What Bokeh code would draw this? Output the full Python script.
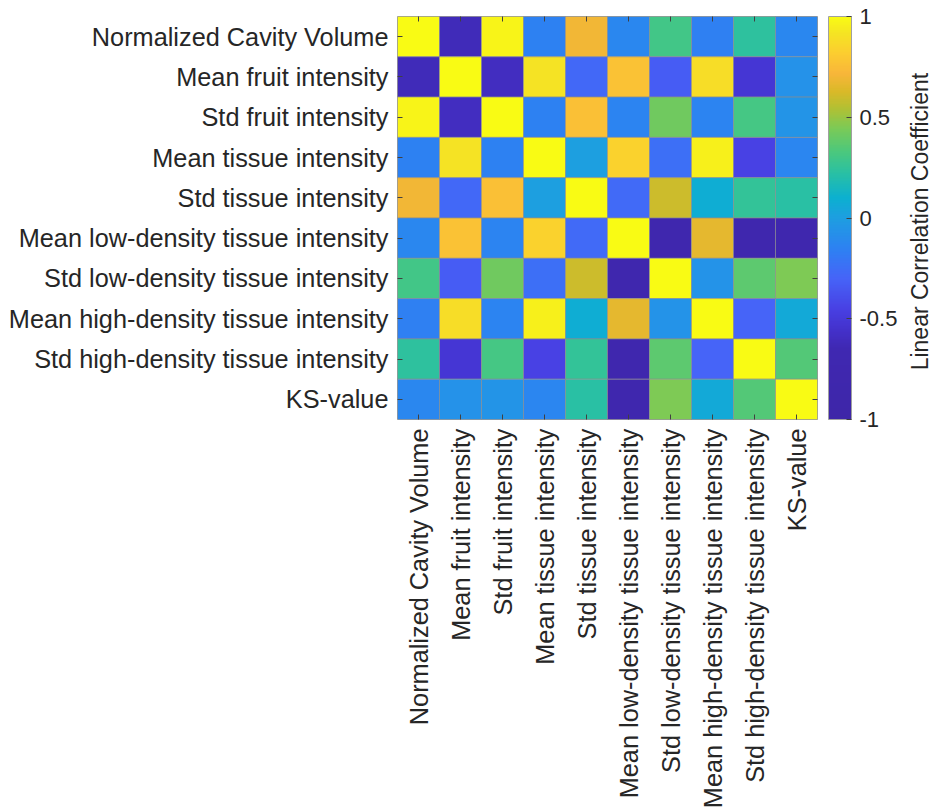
import math
import numpy as np
from bokeh.plotting import figure
from bokeh.layouts import row
from bokeh.core.properties import value
from bokeh.models import (ColumnDataSource, FactorRange, LinearColorMapper, ColorBar,
                          FixedTicker, CustomJSTickFormatter, CategoricalAxis, Range1d)
from bokeh.transform import transform
from bokeh.embed import file_html
from bokeh.resources import INLINE

# ---- data ----
labels = ["Normalized Cavity Volume", "Mean fruit intensity", "Std fruit intensity",
          "Mean tissue intensity", "Std tissue intensity",
          "Mean low-density tissue intensity", "Std low-density tissue intensity",
          "Mean high-density tissue intensity", "Std high-density tissue intensity",
          "KS-value"]

r_ncv = [1.00, -0.62, 0.97, -0.15, 0.70, -0.12, 0.30, -0.16, 0.24, -0.12]
r_mfi = [-0.62, 1.00, -0.60, 0.91, -0.28, 0.77, -0.33, 0.89, -0.52, -0.07]
r_sfi = [0.97, -0.60, 1.00, -0.15, 0.76, -0.14, 0.42, -0.14, 0.31, -0.05]
r_mti = [-0.15, 0.91, -0.15, 1.00, 0.00, 0.84, -0.25, 0.96, -0.45, -0.13]
r_sti = [0.70, -0.28, 0.76, 0.00, 1.00, -0.27, 0.60, 0.08, 0.25, 0.22]
r_mld = [-0.12, 0.77, -0.14, 0.84, -0.27, 1.00, -0.78, 0.66, -0.78, -0.80]
r_sld = [0.30, -0.33, 0.42, -0.25, 0.60, -0.78, 1.00, -0.06, 0.37, 0.45]
r_mhd = [-0.16, 0.89, -0.14, 0.96, 0.08, 0.66, -0.06, 1.00, -0.30, 0.06]
r_shd = [0.24, -0.52, 0.31, -0.45, 0.25, -0.78, 0.37, -0.30, 1.00, 0.35]
r_ks = [-0.12, -0.07, -0.05, -0.13, 0.22, -0.80, 0.45, 0.06, 0.35, 1.00]
rows = [r_ncv, r_mfi, r_sfi, r_mti, r_sti, r_mld, r_sld, r_mhd, r_shd, r_ks]

cbar_ticks = [-1, -0.5, 0, 0.5, 1]
cbar_title = "Linear Correlation Coefficient"

# ---- parula-like palette (style) ----
anchor_v = [-1.00, -0.65, -0.55, -0.45, -0.30, -0.15, 0.00, 0.10, 0.22, 0.33,
            0.45, 0.55, 0.63, 0.72, 0.82, 0.92, 1.00]
anchor_c = [(62, 38, 168), (63, 40, 178), (68, 50, 205), (72, 65, 228), (70, 100, 248),
            (45, 130, 242), (30, 158, 225), (12, 176, 208), (40, 192, 165), (75, 200, 125),
            (125, 202, 85), (180, 192, 50), (218, 185, 40), (248, 182, 58), (252, 205, 48),
            (245, 228, 35), (249, 251, 20)]
vv = np.linspace(-1, 1, 256)
ac = np.array(anchor_c, dtype=float)
pal = []
for v in vv:
    r = np.interp(v, anchor_v, ac[:, 0]); g = np.interp(v, anchor_v, ac[:, 1]); b = np.interp(v, anchor_v, ac[:, 2])
    pal.append("#%02x%02x%02x" % (int(round(r)), int(round(g)), int(round(b))))

xs, ys, vals = [], [], []
for i, rname in enumerate(labels):
    for j, cname in enumerate(labels):
        xs.append(cname); ys.append(rname); vals.append(rows[i][j])
src = ColumnDataSource(dict(x=xs, y=ys, v=vals))

mapper = LinearColorMapper(palette=pal, low=-1, high=1)

FONT = "Liberation Sans"
TXT = "#262626"
W_MAIN = 900
H = 811
B_TOP = 16
B_BOT = 392

y_rng = FactorRange(factors=labels[::-1])
p = figure(width=W_MAIN, height=H, x_range=FactorRange(factors=labels),
           y_range=y_rng, output_backend="svg",
           toolbar_location=None, min_border_left=397, min_border_right=W_MAIN - 818,
           min_border_top=B_TOP, min_border_bottom=B_BOT)
p.rect(x="x", y="y", width=1, height=1, source=src,
       fill_color=transform("v", mapper), line_color="#8c8c8c", line_alpha=0.6, line_width=1)

p.grid.visible = False
p.outline_line_color = "#a0a0a0"
p.outline_line_width = 1
p.background_fill_color = "white"
p.border_fill_color = "white"

for ax in (p.xaxis[0], p.yaxis[0]):
    ax.axis_line_color = None
    ax.major_tick_in = 5
    ax.major_tick_out = 0
    ax.major_tick_line_color = "#404040"
    ax.major_label_text_font = FONT
    ax.major_label_text_font_size = "25.3px"
    ax.major_label_text_color = TXT
    ax.major_label_standoff = 9
p.xaxis[0].major_label_orientation = math.pi / 2

for side in ("above", "right"):
    ax = CategoricalAxis(axis_line_color=None, major_tick_in=5, major_tick_out=0,
                         major_tick_line_color="#404040", major_label_text_font_size="0px",
                         major_label_standoff=0, major_label_text_alpha=0)
    p.add_layout(ax, side)

cb = ColorBar(color_mapper=mapper, width=23, height="auto", padding=0, margin=0,
              location=(11, 0), bar_line_color="#a0a0a0",
              ticker=FixedTicker(ticks=cbar_ticks),
              formatter=CustomJSTickFormatter(code="return tick.toString();"),
              major_tick_in=5, major_tick_out=0, major_tick_line_color="#404040",
              major_label_text_font=FONT, major_label_text_font_size="22px",
              major_label_text_color=TXT, label_standoff=8,
              background_fill_color=None, border_line_color=None)
p.add_layout(cb, "right")

# narrow figure holding the colour-bar title (reads bottom to top), frame aligned with p
W_T = 935 - W_MAIN
p2 = figure(width=W_T, height=H, x_range=Range1d(0, W_T), y_range=y_rng,
            output_backend="svg", toolbar_location=None, min_border_left=0,
            min_border_right=0, min_border_top=B_TOP, min_border_bottom=B_BOT,
            x_axis_location=None, y_axis_location=None)
p2.grid.visible = False
p2.outline_line_color = None
p2.background_fill_color = "white"
p2.border_fill_color = "white"
p2.text(x=[919 - W_MAIN], y=[4.91], text=[cbar_title], angle=math.pi / 2,
        text_align="center", text_baseline="middle", text_font=value(FONT),
        text_font_size="23px", text_color=TXT)

open("out.html", "w").write(file_html(row(p, p2), INLINE))
